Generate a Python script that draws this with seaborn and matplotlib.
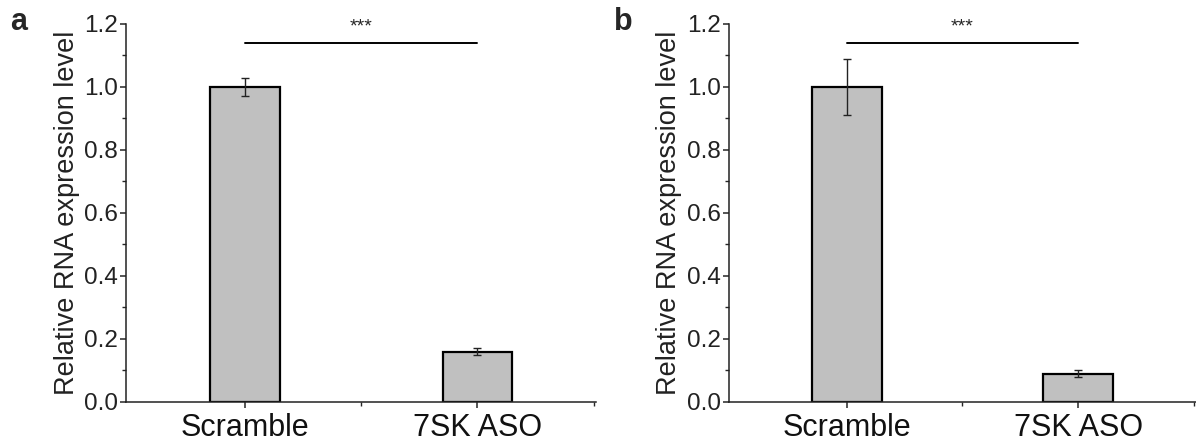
import matplotlib
matplotlib.use("Agg")
import matplotlib.pyplot as plt
import matplotlib.ticker as mticker
import pandas as pd
import seaborn as sns

# data
categories = ["Scramble", "7SK ASO"]
panel_a_mean = [1.00, 0.16]
panel_a_err = [0.03, 0.01]
panel_b_mean = [1.00, 0.09]
panel_b_err = [0.09, 0.01]
panel_letters = ["a", "b"]
significance = "***"
y_label = "Relative RNA expression level"

sns.set_style("ticks")
plt.rcParams["font.family"] = ["Liberation Sans", "DejaVu Sans"]

fig = plt.figure(figsize=(11.96, 4.46), dpi=100)
ax_a = fig.add_axes([0.1054, 0.0987, 0.3930, 0.8475])
ax_b = fig.add_axes([0.6095, 0.0987, 0.3905, 0.8475])


def draw_panel(ax, means, errs, letter):
    df = pd.DataFrame({"group": categories, "value": means})
    sns.barplot(
        ax=ax, data=df, x="group", y="value", order=categories,
        color="#c0c0c0", width=0.30, edgecolor="black", linewidth=1.6,
        saturation=1, errorbar=None,
    )
    # error bars on the bar centres
    ax.errorbar(
        range(len(categories)), means, yerr=errs, fmt="none",
        ecolor="#222222", elinewidth=1.0, capsize=3, capthick=1.0, zorder=5,
    )

    ax.set_xlim(-0.51, 1.51)
    ax.set_ylim(0, 1.2)
    ax.yaxis.set_major_locator(mticker.MultipleLocator(0.2))
    ax.yaxis.set_minor_locator(mticker.MultipleLocator(0.1))
    ax.yaxis.set_major_formatter(mticker.FormatStrFormatter("%.1f"))
    ax.xaxis.set_minor_locator(mticker.FixedLocator([0.5, 1.5]))

    sns.despine(ax=ax)
    for side in ["left", "bottom"]:
        ax.spines[side].set_linewidth(1.1)
        ax.spines[side].set_color("#222222")
    ax.tick_params(axis="y", which="major", length=4, width=1.1, labelsize=17.5,
                   pad=2, labelcolor="#222222")
    ax.tick_params(axis="y", which="minor", length=3, width=1.0)
    ax.tick_params(axis="x", which="major", length=4, width=1.1, labelsize=22,
                   pad=4, labelcolor="#111111")
    ax.tick_params(axis="x", which="minor", length=3, width=1.0)

    ax.set_xlabel("")
    ax.set_ylabel(y_label, fontsize=19.5, labelpad=3, color="#222222")

    # significance bracket between the two groups
    ax.plot([0, 1], [1.14, 1.14], color="black", lw=1.4, clip_on=False)
    ax.text(0.5, 1.19, significance, ha="center", va="center", fontsize=14)

    ax.text(-0.247, 1.005, letter, transform=ax.transAxes, fontsize=22,
            fontweight="bold", ha="left", va="center")


draw_panel(ax_a, panel_a_mean, panel_a_err, panel_letters[0])
draw_panel(ax_b, panel_b_mean, panel_b_err, panel_letters[1])

fig.savefig("out.png", dpi=100)
